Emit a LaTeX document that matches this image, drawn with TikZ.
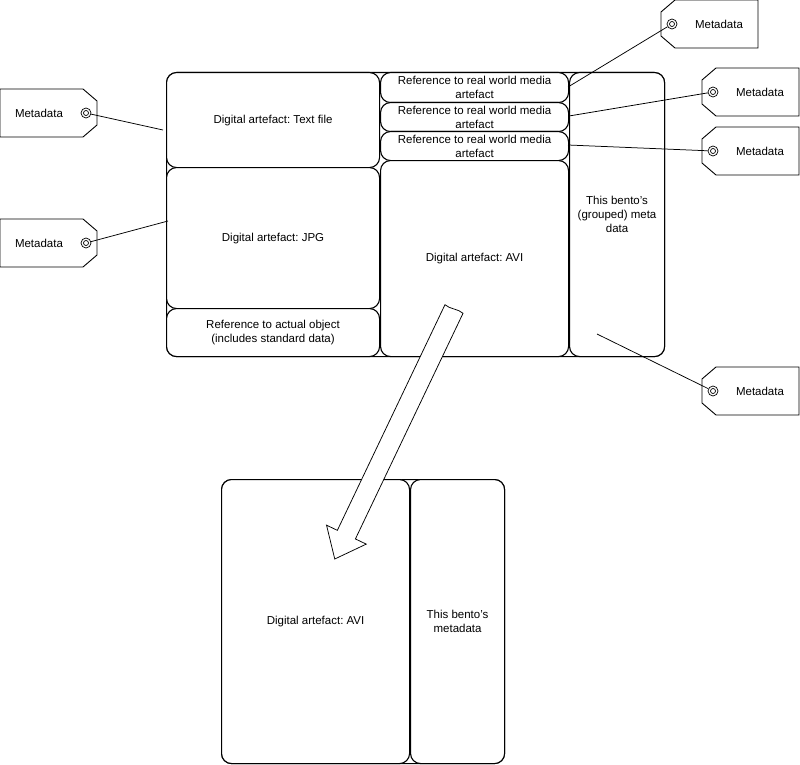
\documentclass[tikz,border=0pt]{standalone}
\usepackage{fontspec}
\setmainfont{Liberation Sans}
\begin{document}
\frenchspacing
\begin{tikzpicture}[x=1pt,y=-1pt,
  font=\fontsize{11.5}{14}\selectfont\frenchspacing,
  box/.style={draw, rounded corners=10pt, inner sep=0pt, align=center, anchor=north west, line width=1.1pt, fill=white},
  ring/.style={circle, draw, inner sep=0pt, minimum size=10pt, line width=0.7pt},
  link/.style={line width=0.75pt},
  ltag/.pic={
    \draw[line width=0.9pt, fill=white] (-86,-24) -- (-3,-24) -- (11,-12) -- (11,12) -- (-3,24) -- (-86,24) -- cycle;
    \node at (-47,0) {Metadata};
    \node[ring] (-ring) at (0,0) {};
    \draw[line width=0.7pt] (0,0) circle (2.5);
  },
  rtag/.pic={
    \draw[line width=0.9pt, fill=white] (86,-24) -- (3,-24) -- (-11,-12) -- (-11,12) -- (3,24) -- (86,24) -- cycle;
    \node at (47,0) {Metadata};
    \node[ring] (-ring) at (0,0) {};
    \draw[line width=0.7pt] (0,0) circle (2.5);
  }
]
\useasboundingbox (0,0) rectangle (800,765);

% upper bento
\node[box, minimum width=498pt, minimum height=284pt] (bento) at (166,72) {};
\node[box, minimum width=213pt, minimum height=95pt] (txt) at (166,72) {Digital artefact: Text file};
\node[box, minimum width=213pt, minimum height=141pt] (jpg) at (166,167) {Digital artefact: JPG};
\node[box, minimum width=213pt, minimum height=48pt] (obj) at (166,308) {Reference to actual object\\(includes standard data)};
\node[box, minimum width=188pt, minimum height=30pt] (r1) at (380,72) {Reference to real world media\\artefact};
\node[box, minimum width=188pt, minimum height=29pt] (r2) at (380,102) {Reference to real world media\\artefact};
\node[box, minimum width=188pt, minimum height=29pt] (r3) at (380,131) {Reference to real world media\\artefact};
\node[box, minimum width=188pt, minimum height=196pt] (avi) at (380,160) {Digital artefact: AVI};
\node[box, minimum width=95pt, minimum height=284pt] (meta) at (569,72) {This bento’s\\(grouped) meta\\data};

% lower bento
\node[box, minimum width=283pt, minimum height=284pt] (bento2) at (221,479) {};
\node[box, minimum width=188pt, minimum height=284pt] (avi2) at (221,479) {Digital artefact: AVI};
\node[box, minimum width=94pt, minimum height=284pt] (meta2) at (410,479) {This bento’s\\metadata};

% tags
\pic (L1) at (86,113) {ltag};
\pic (L2) at (86,243) {ltag};
\pic (R1) at (672,24) {rtag};
\pic (R2) at (713,92) {rtag};
\pic (R3) at (713,151) {rtag};
\pic (R4) at (713,391) {rtag};

\coordinate (e1) at (163,130);
\coordinate (e2) at (168,221);
\coordinate (e3) at (568,87);
\coordinate (e4) at (569,116);
\coordinate (e5) at (568,145);
\coordinate (e6) at (597,334);
\draw[link] (L1-ring) -- (e1);
\draw[link] (L2-ring) -- (e2);
\draw[link] (R1-ring) -- (e3);
\draw[link] (R2-ring) -- (e4);
\draw[link] (R3-ring) -- (e5);
\draw[link] (R4-ring) -- (e6);

% block arrow
\begin{scope}[shift={(454,309)}, rotate=244.5]
  \draw[line width=0.75pt, fill=white] (0,-10) -- (250,-10) -- (250,-22) -- (277,0) -- (250,22) -- (250,10) -- (0,10)
     .. controls (2,4) and (-2,-4) .. cycle;
\end{scope}
\end{tikzpicture}
\end{document}
